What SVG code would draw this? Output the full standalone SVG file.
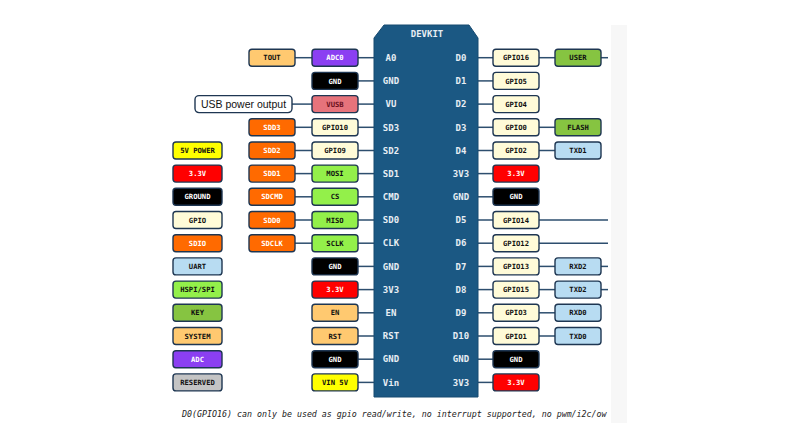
<svg xmlns="http://www.w3.org/2000/svg" width="792" height="436" viewBox="0 0 792 436">
<style>
.b{stroke:#1e3652;stroke-width:1.4}
.t{font-family:"DejaVu Sans Mono","Liberation Mono",monospace;font-weight:bold;font-size:7.2px;text-anchor:middle}
.w{fill:#ffffff}.k{fill:#111111}.m{fill:#6a1020}
.bt{font-family:"DejaVu Sans Mono","Liberation Mono",monospace;font-weight:bold;font-size:9px;fill:#e8eef4;text-anchor:middle}
.sys{fill:#ffc970}.adc{fill:#8b3ff2}.gnd{fill:#000000}.vusb{fill:#e6737b}.sdio{fill:#ff6a00}.gpio{fill:#fffbd8}.spi{fill:#93f04a}.v33{fill:#ff0000}.v5{fill:#ffff00}.key{fill:#86c441}.uart{fill:#b8dcf2}.res{fill:#c4c4c4}.usb{fill:#ffffff}
.c line{stroke:#2d4e6e;stroke-width:1.5}
</style>
<defs><clipPath id="clipNote"><rect x="170" y="400" width="438" height="30"/></clipPath></defs>
<rect x="0" y="0" width="792" height="436" fill="#ffffff"/>
<rect x="611" y="25" width="16" height="398" fill="#f7f7f7"/>

<g class="c" id="connectors">
<line x1="295" y1="57.7" x2="312" y2="57.7"/>
<line x1="292" y1="104.1" x2="312" y2="104.1"/>
<line x1="295" y1="127.3" x2="312" y2="127.3"/>
<line x1="295" y1="150.5" x2="312" y2="150.5"/>
<line x1="295" y1="173.6" x2="312" y2="173.6"/>
<line x1="295" y1="196.8" x2="312" y2="196.8"/>
<line x1="295" y1="220" x2="312" y2="220"/>
<line x1="295" y1="243.2" x2="312" y2="243.2"/>
<line x1="358" y1="57.7" x2="374" y2="57.7"/>
<line x1="358" y1="80.9" x2="374" y2="80.9"/>
<line x1="358" y1="104.1" x2="374" y2="104.1"/>
<line x1="358" y1="127.3" x2="374" y2="127.3"/>
<line x1="358" y1="150.5" x2="374" y2="150.5"/>
<line x1="358" y1="173.6" x2="374" y2="173.6"/>
<line x1="358" y1="196.8" x2="374" y2="196.8"/>
<line x1="358" y1="220" x2="374" y2="220"/>
<line x1="358" y1="243.2" x2="374" y2="243.2"/>
<line x1="358" y1="266.4" x2="374" y2="266.4"/>
<line x1="358" y1="289.6" x2="374" y2="289.6"/>
<line x1="358" y1="312.8" x2="374" y2="312.8"/>
<line x1="358" y1="336" x2="374" y2="336"/>
<line x1="358" y1="359.2" x2="374" y2="359.2"/>
<line x1="358" y1="382.4" x2="374" y2="382.4"/>
<line x1="478" y1="57.7" x2="493" y2="57.7"/>
<line x1="478" y1="80.9" x2="493" y2="80.9"/>
<line x1="478" y1="104.1" x2="493" y2="104.1"/>
<line x1="478" y1="127.3" x2="493" y2="127.3"/>
<line x1="478" y1="150.5" x2="493" y2="150.5"/>
<line x1="478" y1="173.6" x2="493" y2="173.6"/>
<line x1="478" y1="196.8" x2="493" y2="196.8"/>
<line x1="478" y1="220" x2="493" y2="220"/>
<line x1="478" y1="243.2" x2="493" y2="243.2"/>
<line x1="478" y1="266.4" x2="493" y2="266.4"/>
<line x1="478" y1="289.6" x2="493" y2="289.6"/>
<line x1="478" y1="312.8" x2="493" y2="312.8"/>
<line x1="478" y1="336" x2="493" y2="336"/>
<line x1="478" y1="359.2" x2="493" y2="359.2"/>
<line x1="478" y1="382.4" x2="493" y2="382.4"/>
<line x1="539" y1="57.7" x2="555" y2="57.7"/>
<line x1="539" y1="127.3" x2="555" y2="127.3"/>
<line x1="539" y1="150.5" x2="555" y2="150.5"/>
<line x1="539" y1="266.4" x2="555" y2="266.4"/>
<line x1="539" y1="289.6" x2="555" y2="289.6"/>
<line x1="539" y1="312.8" x2="555" y2="312.8"/>
<line x1="539" y1="336" x2="555" y2="336"/>
<line x1="601" y1="57.7" x2="608" y2="57.7"/>
<line x1="539" y1="220" x2="608" y2="220"/>
<line x1="539" y1="243.2" x2="608" y2="243.2"/>
<line x1="601" y1="266.4" x2="608" y2="266.4"/>
<line x1="601" y1="289.6" x2="608" y2="289.6"/>
</g>

<g id="board">
<path d="M374,38 L384,25 L469,25 L478,38 L478,397 L374,397 Z" fill="#1b5883" stroke="#174a70" stroke-width="1"/>
<text class="bt" x="427" y="36.5">DEVKIT</text>
<text class="bt" x="391" y="60.9">A0</text><text class="bt" x="461" y="60.9">D0</text>
<text class="bt" x="391" y="84.1">GND</text><text class="bt" x="461" y="84.1">D1</text>
<text class="bt" x="391" y="107.3">VU</text><text class="bt" x="461" y="107.3">D2</text>
<text class="bt" x="391" y="130.5">SD3</text><text class="bt" x="461" y="130.5">D3</text>
<text class="bt" x="391" y="153.7">SD2</text><text class="bt" x="461" y="153.7">D4</text>
<text class="bt" x="391" y="176.8">SD1</text><text class="bt" x="461" y="176.8">3V3</text>
<text class="bt" x="391" y="200">CMD</text><text class="bt" x="461" y="200">GND</text>
<text class="bt" x="391" y="223.2">SD0</text><text class="bt" x="461" y="223.2">D5</text>
<text class="bt" x="391" y="246.4">CLK</text><text class="bt" x="461" y="246.4">D6</text>
<text class="bt" x="391" y="269.6">GND</text><text class="bt" x="461" y="269.6">D7</text>
<text class="bt" x="391" y="292.8">3V3</text><text class="bt" x="461" y="292.8">D8</text>
<text class="bt" x="391" y="316">EN</text><text class="bt" x="461" y="316">D9</text>
<text class="bt" x="391" y="339.2">RST</text><text class="bt" x="461" y="339.2">D10</text>
<text class="bt" x="391" y="362.4">GND</text><text class="bt" x="461" y="362.4">GND</text>
<text class="bt" x="391" y="385.6">Vin</text><text class="bt" x="461" y="385.6">3V3</text>
</g>

<!-- legend -->
<g id="legend-5v"><rect class="b v5" x="173" y="142" width="49" height="17" rx="3"/><text class="t k" x="197.5" y="153.1">5V POWER</text></g>
<g id="legend-33"><rect class="b v33" x="173" y="165.1" width="49" height="17" rx="3"/><text class="t w" x="197.5" y="176.2">3.3V</text></g>
<g id="legend-gnd"><rect class="b gnd" x="173" y="188.3" width="49" height="17" rx="3"/><text class="t w" x="197.5" y="199.4">GROUND</text></g>
<g id="legend-gpio"><rect class="b gpio" x="173" y="211.5" width="49" height="17" rx="3"/><text class="t k" x="197.5" y="222.6">GPIO</text></g>
<g id="legend-sdio"><rect class="b sdio" x="173" y="234.7" width="49" height="17" rx="3"/><text class="t w" x="197.5" y="245.8">SDIO</text></g>
<g id="legend-uart"><rect class="b uart" x="173" y="257.9" width="49" height="17" rx="3"/><text class="t k" x="197.5" y="269">UART</text></g>
<g id="legend-spi"><rect class="b spi" x="173" y="281.1" width="49" height="17" rx="3"/><text class="t k" x="197.5" y="292.2">HSPI/SPI</text></g>
<g id="legend-key"><rect class="b key" x="173" y="304.3" width="49" height="17" rx="3"/><text class="t k" x="197.5" y="315.4">KEY</text></g>
<g id="legend-sys"><rect class="b sys" x="173" y="327.5" width="49" height="17" rx="3"/><text class="t k" x="197.5" y="338.6">SYSTEM</text></g>
<g id="legend-adc"><rect class="b adc" x="173" y="350.7" width="49" height="17" rx="3"/><text class="t w" x="197.5" y="361.8">ADC</text></g>
<g id="legend-res"><rect class="b res" x="173" y="373.9" width="49" height="17" rx="3"/><text class="t k" x="197.5" y="385">RESERVED</text></g>

<!-- left outer -->
<g id="tout"><rect class="b sys" x="249" y="49.2" width="46" height="17" rx="3"/><text class="t k" x="272" y="60.3">TOUT</text></g>
<g id="usb-out"><rect class="b usb" x="195" y="95.6" width="97" height="17" rx="4"/><text x="243.5" y="107.6" font-family="Liberation Sans, Arial, sans-serif" font-size="10.5" fill="#111" text-anchor="middle">USB power output</text></g>
<g id="sdd3"><rect class="b sdio" x="249" y="118.8" width="46" height="17" rx="3"/><text class="t w" x="272" y="129.9">SDD3</text></g>
<g id="sdd2"><rect class="b sdio" x="249" y="142" width="46" height="17" rx="3"/><text class="t w" x="272" y="153.1">SDD2</text></g>
<g id="sdd1"><rect class="b sdio" x="249" y="165.1" width="46" height="17" rx="3"/><text class="t w" x="272" y="176.2">SDD1</text></g>
<g id="sdcmd"><rect class="b sdio" x="249" y="188.3" width="46" height="17" rx="3"/><text class="t w" x="272" y="199.4">SDCMD</text></g>
<g id="sdd0"><rect class="b sdio" x="249" y="211.5" width="46" height="17" rx="3"/><text class="t w" x="272" y="222.6">SDD0</text></g>
<g id="sdclk"><rect class="b sdio" x="249" y="234.7" width="46" height="17" rx="3"/><text class="t w" x="272" y="245.8">SDCLK</text></g>

<!-- left inner -->
<g id="adc0"><rect class="b adc" x="312" y="49.2" width="46" height="17" rx="3"/><text class="t w" x="335" y="60.3">ADC0</text></g>
<g id="l-gnd1"><rect class="b gnd" x="312" y="72.4" width="46" height="17" rx="3"/><text class="t w" x="335" y="83.5">GND</text></g>
<g id="vusb"><rect class="b vusb" x="312" y="95.6" width="46" height="17" rx="3"/><text class="t m" x="335" y="106.7">VUSB</text></g>
<g id="gpio10"><rect class="b gpio" x="312" y="118.8" width="46" height="17" rx="3"/><text class="t k" x="335" y="129.9">GPIO10</text></g>
<g id="gpio9"><rect class="b gpio" x="312" y="142" width="46" height="17" rx="3"/><text class="t k" x="335" y="153.1">GPIO9</text></g>
<g id="mosi"><rect class="b spi" x="312" y="165.1" width="46" height="17" rx="3"/><text class="t k" x="335" y="176.2">MOSI</text></g>
<g id="cs"><rect class="b spi" x="312" y="188.3" width="46" height="17" rx="3"/><text class="t k" x="335" y="199.4">CS</text></g>
<g id="miso"><rect class="b spi" x="312" y="211.5" width="46" height="17" rx="3"/><text class="t k" x="335" y="222.6">MISO</text></g>
<g id="sclk"><rect class="b spi" x="312" y="234.7" width="46" height="17" rx="3"/><text class="t k" x="335" y="245.8">SCLK</text></g>
<g id="l-gnd2"><rect class="b gnd" x="312" y="257.9" width="46" height="17" rx="3"/><text class="t w" x="335" y="269">GND</text></g>
<g id="l-33"><rect class="b v33" x="312" y="281.1" width="46" height="17" rx="3"/><text class="t w" x="335" y="292.2">3.3V</text></g>
<g id="en"><rect class="b sys" x="312" y="304.3" width="46" height="17" rx="3"/><text class="t k" x="335" y="315.4">EN</text></g>
<g id="rst"><rect class="b sys" x="312" y="327.5" width="46" height="17" rx="3"/><text class="t k" x="335" y="338.6">RST</text></g>
<g id="l-gnd3"><rect class="b gnd" x="312" y="350.7" width="46" height="17" rx="3"/><text class="t w" x="335" y="361.8">GND</text></g>
<g id="vin5"><rect class="b v5" x="312" y="373.9" width="46" height="17" rx="3"/><text class="t k" x="335" y="385">VIN 5V</text></g>

<!-- right inner -->
<g id="gpio16"><rect class="b gpio" x="493" y="49.2" width="46" height="17" rx="3"/><text class="t k" x="516" y="60.3">GPIO16</text></g>
<g id="gpio5"><rect class="b gpio" x="493" y="72.4" width="46" height="17" rx="3"/><text class="t k" x="516" y="83.5">GPIO5</text></g>
<g id="gpio4"><rect class="b gpio" x="493" y="95.6" width="46" height="17" rx="3"/><text class="t k" x="516" y="106.7">GPIO4</text></g>
<g id="gpio0"><rect class="b gpio" x="493" y="118.8" width="46" height="17" rx="3"/><text class="t k" x="516" y="129.9">GPIO0</text></g>
<g id="gpio2"><rect class="b gpio" x="493" y="142" width="46" height="17" rx="3"/><text class="t k" x="516" y="153.1">GPIO2</text></g>
<g id="r-33a"><rect class="b v33" x="493" y="165.1" width="46" height="17" rx="3"/><text class="t w" x="516" y="176.2">3.3V</text></g>
<g id="r-gnd1"><rect class="b gnd" x="493" y="188.3" width="46" height="17" rx="3"/><text class="t w" x="516" y="199.4">GND</text></g>
<g id="gpio14"><rect class="b gpio" x="493" y="211.5" width="46" height="17" rx="3"/><text class="t k" x="516" y="222.6">GPIO14</text></g>
<g id="gpio12"><rect class="b gpio" x="493" y="234.7" width="46" height="17" rx="3"/><text class="t k" x="516" y="245.8">GPIO12</text></g>
<g id="gpio13"><rect class="b gpio" x="493" y="257.9" width="46" height="17" rx="3"/><text class="t k" x="516" y="269">GPIO13</text></g>
<g id="gpio15"><rect class="b gpio" x="493" y="281.1" width="46" height="17" rx="3"/><text class="t k" x="516" y="292.2">GPIO15</text></g>
<g id="gpio3"><rect class="b gpio" x="493" y="304.3" width="46" height="17" rx="3"/><text class="t k" x="516" y="315.4">GPIO3</text></g>
<g id="gpio1"><rect class="b gpio" x="493" y="327.5" width="46" height="17" rx="3"/><text class="t k" x="516" y="338.6">GPIO1</text></g>
<g id="r-gnd2"><rect class="b gnd" x="493" y="350.7" width="46" height="17" rx="3"/><text class="t w" x="516" y="361.8">GND</text></g>
<g id="r-33b"><rect class="b v33" x="493" y="373.9" width="46" height="17" rx="3"/><text class="t w" x="516" y="385">3.3V</text></g>

<!-- right outer -->
<g id="user"><rect class="b key" x="555" y="49.2" width="46" height="17" rx="3"/><text class="t k" x="578" y="60.3">USER</text></g>
<g id="flash"><rect class="b key" x="555" y="118.8" width="46" height="17" rx="3"/><text class="t k" x="578" y="129.9">FLASH</text></g>
<g id="txd1"><rect class="b uart" x="555" y="142" width="46" height="17" rx="3"/><text class="t k" x="578" y="153.1">TXD1</text></g>
<g id="rxd2"><rect class="b uart" x="555" y="257.9" width="46" height="17" rx="3"/><text class="t k" x="578" y="269">RXD2</text></g>
<g id="txd2"><rect class="b uart" x="555" y="281.1" width="46" height="17" rx="3"/><text class="t k" x="578" y="292.2">TXD2</text></g>
<g id="rxd0"><rect class="b uart" x="555" y="304.3" width="46" height="17" rx="3"/><text class="t k" x="578" y="315.4">RXD0</text></g>
<g id="txd0"><rect class="b uart" x="555" y="327.5" width="46" height="17" rx="3"/><text class="t k" x="578" y="338.6">TXD0</text></g>

<g id="note" clip-path="url(#clipNote)">
<text x="182" y="417" font-family="DejaVu Sans Mono, Liberation Mono, monospace" font-style="italic" font-size="8.3" fill="#222">D0(GPIO16) can only be used as gpio read/write, no interrupt supported, no pwm/i2c/ow</text>
</g>
</svg>
